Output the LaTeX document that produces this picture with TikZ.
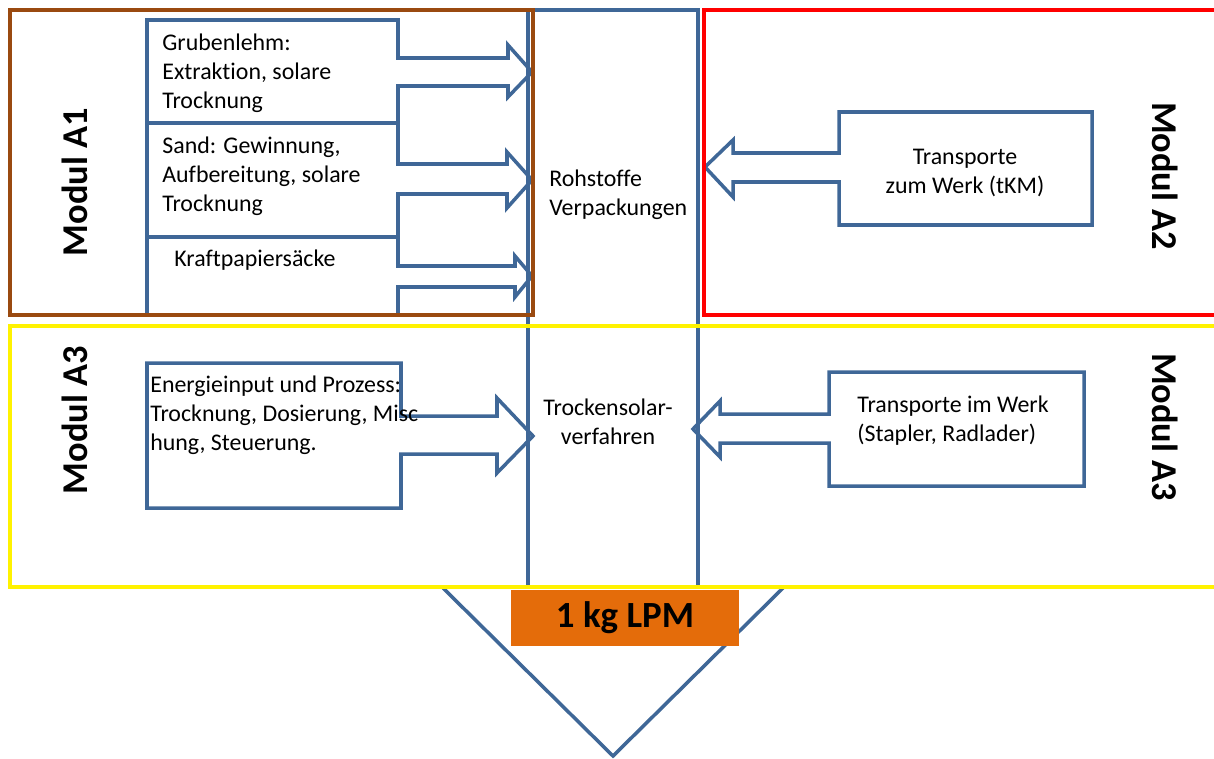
\documentclass[tikz,border=0pt]{standalone}
\usepackage{fontspec}
\setmainfont{Carlito}[Ligatures=NoCommon]
\usepackage{tikz}
\definecolor{lineblue}{HTML}{3F6797}
\definecolor{modbrown}{HTML}{9A4A10}
\definecolor{lpmorange}{HTML}{E46C0A}

\begin{document}
\begin{tikzpicture}[x=0.02cm,y=-0.02cm]
  % `callout' is used for the blue arrow boxes and the column.
  % `txt' is used for the texts in them.
  % `modlabel' is used for the rotated module names.
  \tikzstyle{callout} = [draw=lineblue,line width=2pt]
  \tikzstyle{txt} = [font=\fontsize{13.6}{16.4}\selectfont,inner sep=0pt,align=left,anchor=west]
  \tikzstyle{modlabel} = [font=\fontsize{20.7}{24}\selectfont\bfseries,inner sep=0pt]
  \tikzstyle{modbox} = [line width=2pt]
  \useasboundingbox (0,0) rectangle (1214,758);
  %
  % Triangle and result box.
  \draw[callout] (443,588) -- (613,756) -- (783,588);
  \node[fill=lpmorange,minimum width=4.56cm,minimum height=1.12cm,inner sep=0pt,
    font=\fontsize{21}{24}\selectfont\bfseries] (lpm) at (625,618) {1 kg LPM};
  % Central column.
  \draw[callout] (528,587) -- (528,10) -- (698,10) -- (698,587);
  %
  % Module A1 callouts.
  \draw[callout] (147,123) -- (147,20) -- (398,20) -- (398,58) -- (508,58) -- (508,45)
    -- (532,72) -- (508,97) -- (508,86) -- (398,86) -- (398,123) -- cycle;
  \draw[callout] (147,237) -- (147,123) -- (398,123) -- (398,164) -- (507,164) -- (507,152)
    -- (532,180) -- (507,208) -- (507,194) -- (398,194) -- (398,237) -- cycle;
  \draw[callout] (147,315) -- (147,237) -- (398,237) -- (398,266) -- (515,266) -- (515,256)
    -- (532,276) -- (515,297) -- (515,287) -- (398,287) -- (398,315);
  % Module A3 callout (left).
  \draw[callout] (147,508) -- (147,363) -- (401,363) -- (401,416) -- (497,416) -- (497,398)
    -- (533,436) -- (497,473) -- (497,454) -- (401,454) -- (401,508) -- cycle;
  % Module A2 callout.
  \draw[callout] (1092,112) -- (839,112) -- (839,153) -- (733,153) -- (733,140)
    -- (705,167) -- (733,197) -- (733,182) -- (839,182) -- (839,225) -- (1092,225) -- cycle;
  % Module A3 callout (right).
  \draw[callout] (1084,372) -- (829,372) -- (829,414) -- (720,414) -- (720,401)
    -- (693,429) -- (720,457) -- (720,443) -- (829,443) -- (829,486) -- (1084,486) -- cycle;
  %
  % Module frames.
  \draw[modbox,draw=modbrown] (10,10) rectangle (533,315);
  \draw[modbox,draw=red] (704,10) rectangle (1216,315);
  \draw[modbox,draw=yellow] (10,326) rectangle (1216,587);
  %
  % Texts.
  \node[txt] (grub) at (162,73) {Grubenlehm:\\Extraktion, solare\\Trocknung};
  \node[txt] (sand) at (162,176) {Sand: Gewinnung,\\Aufbereitung, solare\\Trocknung};
  \node[txt] (kraft) at (174,260) {Kraftpapiersäcke};
  \node[txt] (roh) at (549,195) {Rohstoffe\\Verpackungen};
  \node[txt,align=center,anchor=center] (trocken) at (608,422) {Trockensolar-\\verfahren};
  \node[txt,align=center,anchor=center] (transA2) at (965,173) {Transporte\\zum Werk (tKM)};
  \node[txt] (energie) at (150,415) {Energieinput und Prozess:\\Trocknung, Dosierung, Misc\\hung, Steuerung.};
  \node[txt] (transA3) at (857,421) {Transporte im Werk\\(Stapler, Radlader)};
  %
  \node[modlabel,rotate=90] (modA1) at (75,182) {Modul A1};
  \node[modlabel,rotate=90] (modA3l) at (75,420) {Modul A3};
  \node[modlabel,rotate=-90] (modA2) at (1165,176) {Modul A2};
  \node[modlabel,rotate=-90] (modA3r) at (1165,427) {Modul A3};
\end{tikzpicture}
\end{document}
